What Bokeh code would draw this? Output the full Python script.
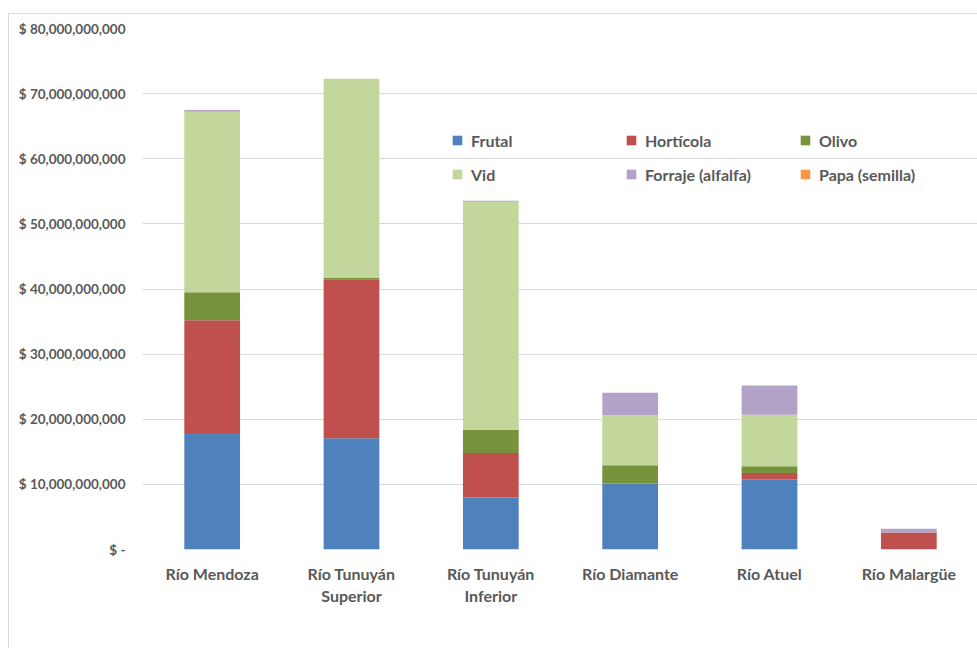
from bokeh.plotting import figure
from bokeh.models import Legend, LegendItem, CustomJSTickFormatter, FixedTicker, FactorRange, Range1d
from bokeh.embed import file_html
from bokeh.resources import INLINE

cuencas = ["Río Mendoza", "Río Tunuyán\nSuperior", "Río Tunuyán\nInferior", "Río Diamante", "Río Atuel", "Río Malargüe"]
frutal =    [17.9e9, 17.1e9,  8.0e9, 10.15e9, 10.8e9, 0.0]
horticola = [17.3e9, 24.4e9,  6.8e9,  0.0,     0.95e9, 2.6e9]
olivo =     [4.3e9,  0.2e9,   3.6e9,  2.8e9,   1.05e9, 0.0]
vid =       [27.7e9, 30.6e9, 35.0e9,  7.7e9,   7.9e9,  0.0]
forraje =   [0.3e9,  0.0,     0.15e9, 3.4e9,   4.5e9,  0.6e9]
papa =      [0.0,    0.0,     0.0,    0.0,     0.0,    0.0]

series = ["Frutal", "Hortícola", "Olivo", "Vid", "Forraje (alfalfa)", "Papa (semilla)"]
colors = ["#4F81BD", "#C0504D", "#77933C", "#C3D69B", "#B3A2C7", "#F79646"]
y_ticks = [0, 1e10, 2e10, 3e10, 4e10, 5e10, 6e10, 7e10, 8e10]

data = {"cuenca": cuencas, "Frutal": frutal, "Hortícola": horticola, "Olivo": olivo,
        "Vid": vid, "Forraje (alfalfa)": forraje, "Papa (semilla)": papa}

FONT = "Lato"
GRAY = "#595959"

p = figure(x_range=FactorRange(*cuencas), y_range=Range1d(0, 8e10),
           width=969, height=635, output_backend="svg", toolbar_location=None,
           min_border_left=133, min_border_right=0, min_border_top=14, min_border_bottom=100,
           margin=(13, 0, 0, 8),
           styles={"border-left": "1px solid #d9d9d9", "border-top": "1px solid #d9d9d9"})
p.outline_line_color = None

renderers = p.vbar_stack(series, x="cuenca", width=0.4, color=colors, line_color=None, source=data)

p.xgrid.grid_line_color = None
p.ygrid.grid_line_color = "#d9d9d9"
p.ygrid.grid_line_width = 1

p.yaxis.ticker = FixedTicker(ticks=y_ticks)
p.yaxis.formatter = CustomJSTickFormatter(code="""
if (tick == 0) { return '$ -'; }
return '$ ' + Math.round(tick).toLocaleString('en-US');
""")
for ax in (p.xaxis[0], p.yaxis[0]):
    ax.axis_line_color = None
    ax.major_tick_line_color = None
    ax.minor_tick_line_color = None
    ax.major_label_text_font = FONT
    ax.major_label_text_font_style = "bold"
    ax.major_label_text_color = GRAY
p.yaxis.major_label_text_font_size = "13.5px"
p.yaxis.major_label_standoff = 11
p.xaxis.major_label_text_font_size = "16px"
p.xaxis.major_label_standoff = 8

# legend is filled column by column: order items so rows read Frutal/Hortícola/Olivo, Vid/Forraje/Papa
order = [0, 3, 1, 4, 2, 5]
items = [LegendItem(label=series[i], renderers=[renderers[i]]) for i in order]
legend = Legend(items=items, ncols=3, location=(309, 365), padding=0, margin=0,
                glyph_width=12, glyph_height=12, label_standoff=8, label_width=140,
                label_height=20, spacing=14,
                label_text_font=FONT, label_text_font_style="bold",
                label_text_font_size="16px", label_text_color=GRAY,
                background_fill_alpha=0, border_line_color=None)
p.add_layout(legend)

open("out.html", "w").write(file_html(p, INLINE))
